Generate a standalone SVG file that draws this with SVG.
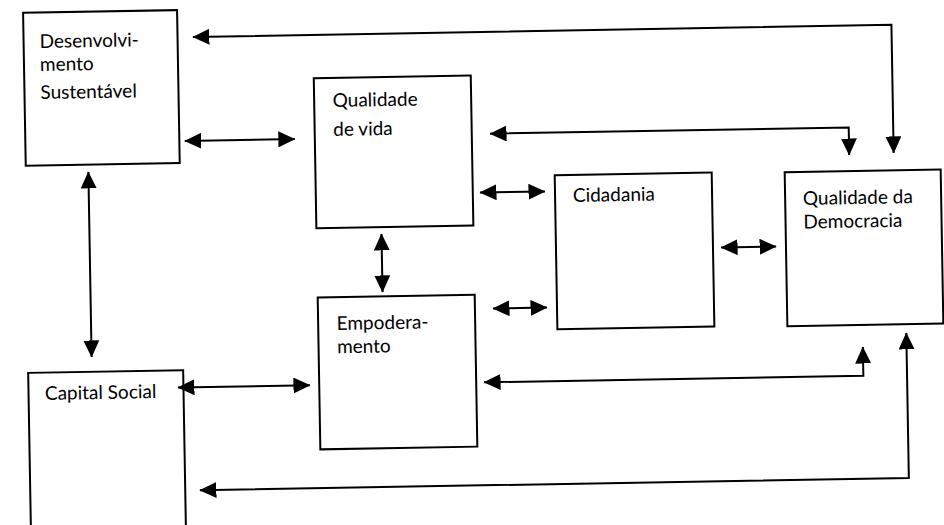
<svg xmlns="http://www.w3.org/2000/svg" width="944" height="525" viewBox="0 0 944 525">
  <style>
    .box { fill: #ffffff; stroke: #000000; stroke-width: 2; }
    .lbl { font-family: "Lato", "Liberation Sans", sans-serif; font-size: 19px; fill: #000000; }
    .con { fill: none; stroke: #000000; stroke-width: 2; }
  </style>
  <defs>
    <marker id="ah" markerUnits="userSpaceOnUse" markerWidth="17" markerHeight="16" viewBox="0 0 17 16" refX="16.5" refY="8" orient="auto-start-reverse">
      <path d="M0,0 L17,8 L0,16 Z" fill="#000000"/>
    </marker>
  </defs>
  <rect x="0" y="0" width="944" height="525" fill="#ffffff"/>
  <g transform="rotate(-1 472 262)">
    <g id="desenvolvimento-sustentavel">
      <rect class="box" x="27.5" y="5" width="154" height="153"/>
      <text class="lbl" x="43.5" y="40.5">Desenvolvi-</text>
      <text class="lbl" x="43.5" y="63.5">mento</text>
      <text class="lbl" x="43.5" y="91.5">Sustentável</text>
    </g>
    <g id="qualidade-de-vida">
      <rect class="box" x="317" y="75.6" width="157" height="150"/>
      <text class="lbl" x="335.5" y="104.6">Qualidade</text>
      <text class="lbl" x="335.5" y="133.6">de vida</text>
    </g>
    <g id="cidadania">
      <rect class="box" x="556.2" y="176.8" width="157" height="154"/>
      <text class="lbl" x="574" y="203.8">Cidadania</text>
    </g>
    <g id="qualidade-da-democracia">
      <rect class="box" x="786.2" y="177.8" width="156" height="154"/>
      <text class="lbl" x="804" y="210.8">Qualidade da</text>
      <text class="lbl" x="804" y="234.3">Democracia</text>
    </g>
    <g id="empoderamento">
      <rect class="box" x="317.1" y="294.7" width="157" height="152"/>
      <text class="lbl" x="335.6" y="327.6">Empodera-</text>
      <text class="lbl" x="335.6" y="351">mento</text>
    </g>
    <g id="capital-social">
      <rect class="box" x="26.3" y="365.1" width="155" height="200"/>
      <text class="lbl" x="42.6" y="392.5">Capital Social</text>
    </g>
    <g id="connectors">
      <path class="con" d="M196.9,32.2 H895.5 V160.3" marker-start="url(#ah)" marker-end="url(#ah)"/>
      <path class="con" d="M492.3,134 H851 V161.6" marker-start="url(#ah)" marker-end="url(#ah)"/>
      <path class="con" d="M187,136 H297" marker-start="url(#ah)" marker-end="url(#ah)"/>
      <path class="con" d="M481.2,192.7 H546.2" marker-start="url(#ah)" marker-end="url(#ah)"/>
      <path class="con" d="M382,232.4 V290.4" marker-start="url(#ah)" marker-end="url(#ah)"/>
      <path class="con" d="M492.2,308.9 H546.2" marker-start="url(#ah)" marker-end="url(#ah)"/>
      <path class="con" d="M721.3,251.8 H776.3" marker-start="url(#ah)" marker-end="url(#ah)"/>
      <path class="con" d="M90,165.3 V350.3" marker-start="url(#ah)" marker-end="url(#ah)"/>
      <path class="con" d="M175.8,382.4 H307.8" marker-start="url(#ah)" marker-end="url(#ah)"/>
      <path class="con" d="M482,382.5 H861.3 V353.8" marker-start="url(#ah)" marker-end="url(#ah)"/>
      <path class="con" d="M196,485.5 H905 V340.5" marker-start="url(#ah)" marker-end="url(#ah)"/>
    </g>
  </g>
</svg>
